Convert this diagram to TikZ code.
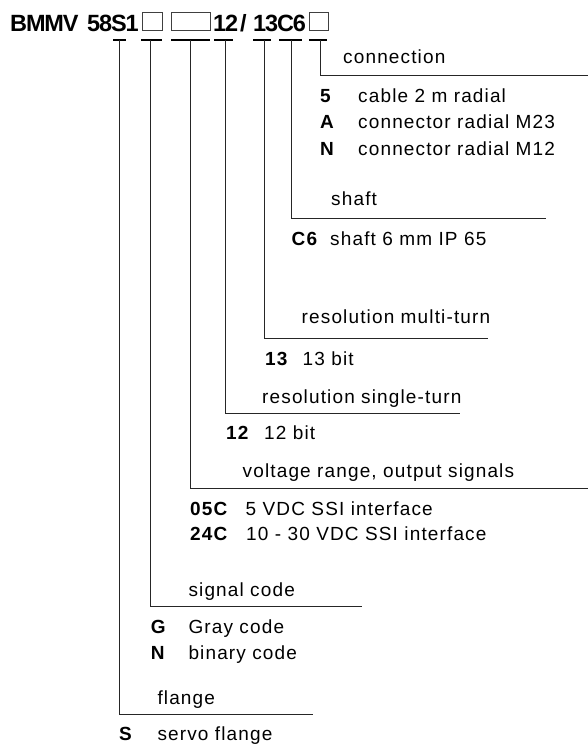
\documentclass[tikz,border=0pt]{standalone}
\usepackage{fontspec}
\setmainfont{Liberation Sans}
\newfontfamily\bodyfont[LetterSpace=6]{Liberation Sans}
\newfontfamily\headfont[LetterSpace=-5]{Liberation Sans}
\begin{document}
\begin{tikzpicture}[x=1pt,y=-1pt,
  txt/.style={anchor=base west, inner sep=0pt, font=\bodyfont\fontsize{19}{23}\selectfont},
  keytxt/.style={anchor=base west, inner sep=0pt, font=\bodyfont\bfseries\fontsize{19}{23}\selectfont},
  head/.style={anchor=base west, inner sep=0pt, font=\headfont\bfseries\fontsize{23.5}{28}\selectfont},
  slot/.style={draw=black!75, line width=1pt, anchor=south west, minimum height=18pt, inner sep=0pt},
  tickmark/.style={line width=2.2pt, black},
  lead/.style={line width=1pt, black!85}]
\useasboundingbox (0,0) rectangle (588,744);
% title
\node[head] (h1) at (10,31) {BMMV};
\node[head] (h2) at (87,31) {58S1};
\node[slot, minimum width=20pt] (b1) at (142,31) {};
\node[slot, minimum width=39pt] (b2) at (171,31) {};
\node[head] (h3) at (213,31) {12};
\node[head] (h4) at (240,31) {/};
\node[head] (h5) at (253,31) {13C6};
\node[slot, minimum width=19pt] (b3) at (309,31) {};
% tick coordinates
\coordinate (a1) at (113,40); \coordinate (z1) at (126,40);
\coordinate (a2) at (141,40); \coordinate (z2) at (162,40);
\coordinate (a3) at (171,40); \coordinate (z3) at (210,40);
\coordinate (a4) at (214,40); \coordinate (z4) at (233,40);
\coordinate (a5) at (253,40); \coordinate (z5) at (271,40);
\coordinate (a6) at (279,40); \coordinate (z6) at (302,40);
\coordinate (a7) at (309,40); \coordinate (z7) at (327,40);
\foreach \i in {1,...,7} {\draw[tickmark] (a\i) -- (z\i);}
% leader coordinates
\coordinate (v1) at (119,40); \coordinate (c1) at (119,714); \coordinate (e1) at (313,714);
\coordinate (v2) at (150,40); \coordinate (c2) at (150,606); \coordinate (e2) at (362,606);
\coordinate (v3) at (190,40); \coordinate (c3) at (190,488); \coordinate (e3) at (588,488);
\coordinate (v4) at (225,40); \coordinate (c4) at (225,413); \coordinate (e4) at (460,413);
\coordinate (v5) at (264,40); \coordinate (c5) at (264,338); \coordinate (e5) at (488,338);
\coordinate (v6) at (291,40); \coordinate (c6) at (291,218); \coordinate (e6) at (546,218);
\coordinate (v7) at (320,40); \coordinate (c7) at (320,75);  \coordinate (e7) at (588,75);
\foreach \i in {1,...,7} {\draw[lead] (v\i) -- (c\i) -- (e\i);}
% connection
\node[txt] (l7) at (343,63) {connection};
\node[keytxt] (k7a) at (320,102.7) {5};
\node[txt] (d7a) at (358,102.7) {cable 2 m radial};
\node[keytxt] (k7b) at (320,128.8) {A};
\node[txt] (d7b) at (358,128.8) {connector radial M23};
\node[keytxt] (k7c) at (320,155) {N};
\node[txt] (d7c) at (358,155) {connector radial M12};
% shaft
\node[txt] (l6) at (331,205.5) {shaft};
\node[keytxt] (k6a) at (291.5,245) {C6};
\node[txt] (d6a) at (330,245) {shaft 6 mm IP 65};
% multi-turn
\node[txt] (l5) at (301.5,323.3) {resolution multi-turn};
\node[keytxt] (k5a) at (265,365) {13};
\node[txt] (d5a) at (302.5,365) {13 bit};
% single-turn
\node[txt] (l4) at (262,403.3) {resolution single-turn};
\node[keytxt] (k4a) at (226,439) {12};
\node[txt] (d4a) at (264,439) {12 bit};
% voltage
\node[txt] (l3) at (242.5,477.7) {voltage range, output signals};
\node[keytxt] (k3a) at (190,515) {05C};
\node[txt] (d3a) at (245.5,515) {5 VDC SSI interface};
\node[keytxt] (k3b) at (190,540.7) {24C};
\node[txt] (d3b) at (246,540.7) {10 - 30 VDC SSI interface};
% signal code
\node[txt] (l2) at (188.3,596.7) {signal code};
\node[keytxt] (k2a) at (150.7,633.3) {G};
\node[txt] (d2a) at (188.3,633.3) {Gray code};
\node[keytxt] (k2b) at (150.7,659.3) {N};
\node[txt] (d2b) at (188.3,659.3) {binary code};
% flange
\node[txt] (l1) at (157.3,704.3) {flange};
\node[keytxt] (k1a) at (119,740) {S};
\node[txt] (d1a) at (157.3,740) {servo flange};
\end{tikzpicture}
\end{document}
